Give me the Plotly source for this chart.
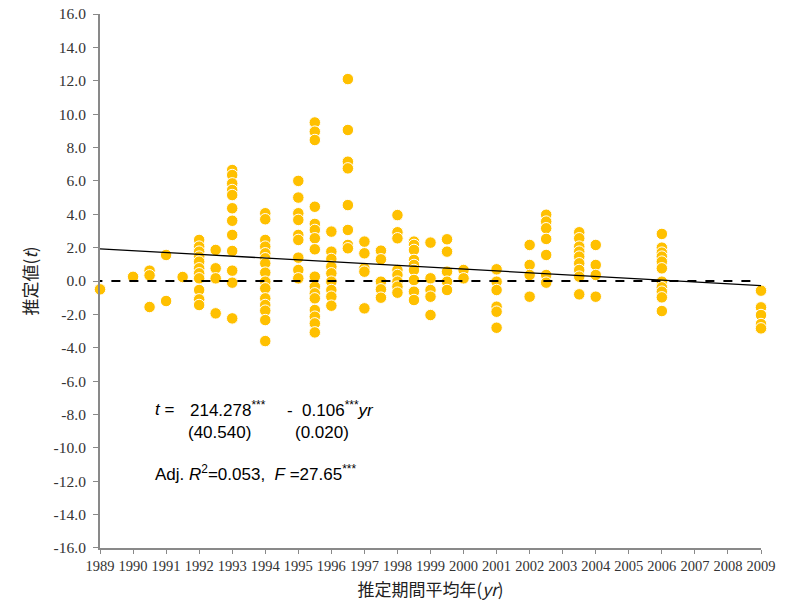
import plotly.graph_objects as go

# Estimates grouped by average year of estimation period
col_years = [1989, 1990, 1990.5, 1991, 1991.5, 1992, 1992.5, 1993, 1994, 1995,
             1995.5, 1996, 1996.5, 1997, 1997.5, 1998, 1998.5, 1999, 1999.5,
             2000, 2001, 2002, 2002.5, 2003.5, 2004, 2006, 2009]
col_values = [
    [-0.5],
    [0.25],
    [0.62, 0.34, -1.56],
    [1.56, -1.2],
    [0.24],
    [2.46, 2.06, 1.76, 1.46, 1.16, 0.76, 0.46, 0.16, -0.54, -1.1, -1.44],
    [1.86, 0.76, 0.16, -1.94],
    [6.65, 6.35, 5.85, 5.45, 5.15, 4.36, 3.61, 2.76, 1.8, 0.62, -0.1, -2.24],
    [4.06, 3.7, 2.46, 2.06, 1.66, 1.36, 1.06, 0.5, -0.04, -0.44, -1.04, -1.44, -1.78, -2.34, -3.6],
    [6.0, 5.0, 4.06, 3.66, 2.76, 2.46, 1.4, 0.66, 0.16],
    [9.5, 8.95, 8.45, 4.45, 3.42, 3.06, 2.56, 1.9, 0.26, -0.34, -0.74, -1.04, -1.74, -2.14, -2.54, -3.08],
    [2.96, 1.76, 1.32, 0.86, 0.46, -0.04, -0.54, -0.94, -1.48],
    [12.1, 9.05, 7.15, 6.75, 4.55, 3.06, 2.16, 1.96],
    [2.36, 1.66, 0.76, 0.56, -1.64],
    [1.82, 1.3, -0.04, -0.5, -1.0],
    [3.95, 2.92, 2.56, 0.66, 0.36, -0.04, -0.34, -0.7],
    [2.36, 2.16, 1.86, 1.26, 0.96, 0.66, 0.06, -0.64, -1.14],
    [2.3, 0.16, -0.54, -0.94, -2.04],
    [2.5, 1.76, 0.56, -0.04, -0.54],
    [0.66, 0.16],
    [0.7, -0.04, -0.54, -1.54, -1.84, -2.8],
    [2.16, 0.96, 0.36, -0.94],
    [3.97, 3.56, 3.16, 2.52, 1.56, 0.36, -0.1],
    [2.92, 2.56, 2.06, 1.76, 1.46, 1.06, 0.66, 0.26, -0.8],
    [2.16, 0.96, 0.36, -0.94],
    [2.82, 2.0, 1.7, 1.46, 1.16, 0.76, -0.04, -0.38, -0.64, -0.98, -1.8],
    [-0.58, -1.58, -2.04, -2.58, -2.84],
]

trend_x = [1989, 2009]
trend_y = [1.93, -0.28]
zero_x = [1988.8, 2008.85]
zero_y = [0, 0]

y_ticks = list(range(-16, 17, 2))
y_tick_text = [f"{v:.1f}" for v in y_ticks]
x_ticks = list(range(1989, 2010))

xs, ys = [], []
for yr, vals in zip(col_years, col_values):
    for v in vals:
        xs.append(yr)
        ys.append(v)

fig = go.Figure()
fig.add_trace(go.Scatter(
    x=xs, y=ys, mode="markers",
    marker=dict(color="#FFC000", size=11.5, line=dict(color="white", width=1)),
    showlegend=False, cliponaxis=False,
))
fig.add_trace(go.Scatter(
    x=zero_x, y=zero_y, mode="lines",
    line=dict(color="black", width=2, dash="dash"),
    showlegend=False, cliponaxis=False,
))
fig.add_trace(go.Scatter(
    x=trend_x, y=trend_y, mode="lines",
    line=dict(color="black", width=1.3),
    showlegend=False,
))

serif = "Liberation Serif, DejaVu Serif, serif"
cjk = "Noto Sans CJK JP, Noto Sans, sans-serif"
ann_font = dict(family="Liberation Sans, Arial, sans-serif", size=17, color="black")

# page body has an 8px margin, so the figure is sized to fit the 785x605 window
fig.update_layout(
    width=777, height=597,
    margin=dict(l=92, r=24, t=6, b=57),
    plot_bgcolor="white", paper_bgcolor="white",
    xaxis=dict(
        range=[1989, 2009], tickvals=x_ticks, ticktext=[str(v) for v in x_ticks],
        automargin=False, ticklabeloverflow="allow",
        showgrid=False, zeroline=False, showline=True, linecolor="#898989", linewidth=2,
        ticks="outside", ticklen=4, tickcolor="#898989",
        tickfont=dict(family=serif, size=14.5, color="#333"),
        title=dict(text="推定期間平均年(<i>yr</i>)", font=dict(family=cjk, size=17, color="#222"), standoff=11),
    ),
    yaxis=dict(
        range=[-16.001, 16.001], tickvals=y_ticks, ticktext=y_tick_text,
        automargin=False, ticklabeloverflow="allow",
        showgrid=False, zeroline=False, showline=True, linecolor="#898989", linewidth=2,
        ticks="outside", ticklen=5, tickcolor="#898989", ticklabelstandoff=4,
        tickfont=dict(family=serif, size=15.5, color="#333"),
        title=dict(text="推定値(<i>t</i>)", font=dict(family=cjk, size=17, color="#222"), standoff=12),
    ),
    annotations=[
        dict(x=1990.6, y=-7.7, xref="x", yref="y", text="<i>t</i> =", showarrow=False,
             xanchor="left", font=ann_font),
        dict(x=1991.65, y=-7.7, xref="x", yref="y", text="214.278<sup>***</sup>", showarrow=False,
             xanchor="left", font=ann_font),
        dict(x=1994.6, y=-7.7, xref="x", yref="y", text="-  0.106<sup>***</sup><i>yr</i>", showarrow=False,
             xanchor="left", font=ann_font),
        dict(x=1991.6, y=-9.1, xref="x", yref="y", text="(40.540)", showarrow=False,
             xanchor="left", font=ann_font),
        dict(x=1994.85, y=-9.1, xref="x", yref="y", text="(0.020)", showarrow=False,
             xanchor="left", font=ann_font),
        dict(x=1990.6, y=-11.5, xref="x", yref="y",
             text="Adj. <i>R</i><sup>2</sup>=0.053,  <i>F</i> =27.65<sup>***</sup>", showarrow=False,
             xanchor="left", font=ann_font),
    ],
)

fig.write_html("out.html")
